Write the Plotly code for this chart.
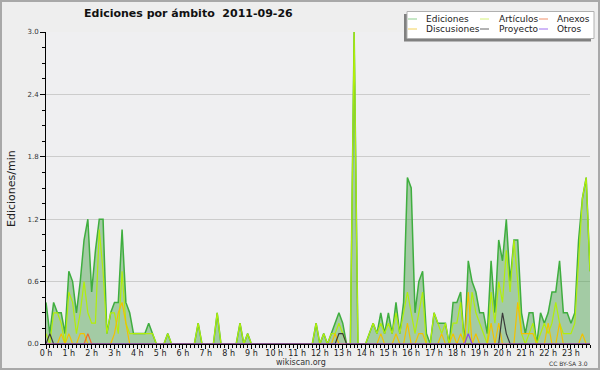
import plotly.graph_objects as go

# ---- data: 10-minute bins (144 per day), edits per minute ----
HOUR_LABELS = ["0 h", "1 h", "2 h", "3 h", "4 h", "5 h", "6 h", "7 h", "8 h", "9 h", "10 h", "11 h",
               "12 h", "13 h", "14 h", "15 h", "16 h", "17 h", "18 h", "19 h", "20 h", "21 h", "22 h", "23 h"]
Y_TICKS = [0.0, 0.6, 1.2, 1.8, 2.4, 3.0]
Y_TICK_LABELS = ["0.0", "0.6", "1.2", "1.8", "2.4", "3.0"]
SERIES_NAMES = ["Ediciones", "Artículos", "Anexos", "Discusiones", "Proyecto", "Otros"]

ediciones = [
    0.4, 0.1, 0.4, 0.3, 0.3, 0.1,
    0.7, 0.6, 0.3, 0.6, 1.0, 1.2,
    0.5, 0.9, 1.2, 1.2, 0.1, 0.3,
    0.4, 0.4, 1.1, 0.4, 0.3, 0.1,
    0.1, 0.1, 0.1, 0.2, 0.1, 0.0,
    0.0, 0.0, 0.1, 0.0, 0.0, 0.0,
    0.0, 0.0, 0.0, 0.0, 0.2, 0.0,
    0.0, 0.0, 0.0, 0.3, 0.0, 0.0,
    0.0, 0.0, 0.0, 0.2, 0.0, 0.1,
    0.0, 0.0, 0.0, 0.0, 0.0, 0.0,
    0.0, 0.0, 0.0, 0.0, 0.0, 0.0,
    0.0, 0.0, 0.0, 0.0, 0.0, 0.2,
    0.0, 0.1, 0.0, 0.1, 0.2, 0.3,
    0.2, 0.0, 0.0, 3.0, 0.0, 0.0,
    0.0, 0.1, 0.2, 0.1, 0.3, 0.1,
    0.3, 0.1, 0.4, 0.1, 0.4, 1.6,
    1.5, 0.3, 0.6, 0.7, 0.1, 0.0,
    0.3, 0.2, 0.2, 0.2, 0.0, 0.4,
    0.4, 0.5, 0.0, 0.8, 0.6, 0.5,
    0.3, 0.3, 0.1, 0.8, 0.3, 1.0,
    0.8, 1.2, 0.6, 1.0, 1.0, 0.3,
    0.1, 0.3, 0.3, 0.0, 0.3, 0.2,
    0.3, 0.5, 0.5, 0.8, 0.3, 0.3,
    0.2, 0.3, 1.0, 1.4, 1.6, 0.7,
]
articulos = [
    0.1, 0.0, 0.3, 0.3, 0.2, 0.0,
    0.5, 0.4, 0.1, 0.3, 0.6, 0.3,
    0.2, 0.2, 1.1, 0.7, 0.1, 0.3,
    0.3, 0.1, 0.7, 0.2, 0.1, 0.1,
    0.1, 0.1, 0.1, 0.1, 0.1, 0.0,
    0.0, 0.0, 0.1, 0.0, 0.0, 0.0,
    0.0, 0.0, 0.0, 0.0, 0.2, 0.0,
    0.0, 0.0, 0.0, 0.3, 0.0, 0.0,
    0.0, 0.0, 0.0, 0.2, 0.0, 0.1,
    0.0, 0.0, 0.0, 0.0, 0.0, 0.0,
    0.0, 0.0, 0.0, 0.0, 0.0, 0.0,
    0.0, 0.0, 0.0, 0.0, 0.0, 0.2,
    0.0, 0.1, 0.0, 0.1, 0.1, 0.2,
    0.1, 0.0, 0.0, 3.0, 0.0, 0.0,
    0.0, 0.1, 0.2, 0.1, 0.2, 0.1,
    0.2, 0.1, 0.3, 0.1, 0.3, 0.5,
    0.3, 0.1, 0.3, 0.5, 0.0, 0.0,
    0.3, 0.2, 0.1, 0.2, 0.0, 0.2,
    0.2, 0.4, 0.0, 0.1, 0.5, 0.3,
    0.2, 0.1, 0.0, 0.5, 0.2, 0.6,
    0.4, 0.9, 0.5, 1.0, 0.6, 0.1,
    0.0, 0.1, 0.2, 0.0, 0.1, 0.2,
    0.1, 0.2, 0.4, 0.2, 0.1, 0.1,
    0.1, 0.2, 0.8, 1.4, 1.6, 0.7,
]
discusiones = [
    0.0, 0.0, 0.0, 0.0, 0.1, 0.0,
    0.1, 0.0, 0.0, 0.1, 0.1, 0.0,
    0.0, 0.0, 0.0, 0.0, 0.0, 0.0,
    0.1, 0.3, 0.4, 0.2, 0.0, 0.0,
    0.0, 0.0, 0.0, 0.0, 0.0, 0.0,
    0.0, 0.0, 0.0, 0.0, 0.0, 0.0,
    0.0, 0.0, 0.0, 0.0, 0.0, 0.0,
    0.0, 0.0, 0.0, 0.0, 0.0, 0.0,
    0.0, 0.0, 0.0, 0.0, 0.0, 0.0,
    0.0, 0.0, 0.0, 0.0, 0.0, 0.0,
    0.0, 0.0, 0.0, 0.0, 0.0, 0.0,
    0.0, 0.0, 0.0, 0.0, 0.0, 0.0,
    0.0, 0.0, 0.0, 0.0, 0.1, 0.0,
    0.0, 0.0, 0.0, 0.0, 0.0, 0.0,
    0.0, 0.0, 0.0, 0.0, 0.1, 0.0,
    0.0, 0.0, 0.1, 0.0, 0.0, 0.2,
    0.0, 0.0, 0.1, 0.1, 0.0, 0.0,
    0.0, 0.0, 0.1, 0.0, 0.0, 0.1,
    0.0, 0.1, 0.0, 0.5, 0.0, 0.1,
    0.0, 0.0, 0.0, 0.2, 0.0, 0.2,
    0.0, 0.0, 0.0, 0.0, 0.4, 0.1,
    0.1, 0.1, 0.1, 0.0, 0.0, 0.0,
    0.2, 0.0, 0.0, 0.2, 0.0, 0.0,
    0.0, 0.0, 0.0, 0.1, 0.0, 0.0,
]
anexos = [0.0] * 11 + [0.1] + [0.0] * 132
proyecto = ([0.0, 0.1] + [0.0] * 75 + [0.1, 0.1] + [0.0] * 41 + [0.3, 0.1] + [0.0] * 22)
otros = [0.0] * 111 + [0.1] + [0.0] * 32

# time of each 10-minute bin, in hours
t = [i / 6 for i in range(len(ediciones))]

COLORS = {"Ediciones": "#3fae3f", "Artículos": "#b2ee0a", "Anexos": "#ee6a2a",
          "Discusiones": "#f2c200", "Proyecto": "#3a3a3a", "Otros": "#8a3ff0"}
LEGEND_COLORS = {"Ediciones": "#8fd08f", "Artículos": "#d4f27a", "Anexos": "#f0906a",
                 "Discusiones": "#f3d25a", "Proyecto": "#666666", "Otros": "#a070f0"}

fig = go.Figure()
fig.add_trace(go.Scatter(x=t, y=ediciones, mode="lines", name="Ediciones",
                         line=dict(color=COLORS["Ediciones"], width=1.5),
                         fill="tozeroy", fillcolor="rgba(70,160,70,0.45)"))
for name, vals in [("Artículos", articulos), ("Discusiones", discusiones), ("Anexos", anexos),
                   ("Proyecto", proyecto), ("Otros", otros)]:
    fig.add_trace(go.Scatter(x=t, y=vals, mode="lines", name=name,
                             line=dict(color=COLORS[name], width=1.2)))

W, H = 600, 370
L, R, T, B = 46, 10, 32, 26
PW, PH = W - L - R, H - T - B


def px(X):
    return (X - L) / PW


def py(Y):
    return (H - B - Y) / PH


shapes = []
annotations = []
# outer frame
shapes.append(dict(type="rect", xref="paper", yref="paper", x0=px(1), x1=px(599), y0=py(1), y1=py(369),
                   line=dict(color="#a8a8a8", width=2), fillcolor="rgba(0,0,0,0)", layer="above"))
# legend box with shadow
shapes.append(dict(type="rect", xref="paper", yref="paper", x0=px(404), x1=px(591), y0=py(41.5), y1=py(14),
                   line=dict(width=0), fillcolor="#808080", layer="above"))
shapes.append(dict(type="rect", xref="paper", yref="paper", x0=px(407), x1=px(594), y0=py(38.5), y1=py(11.5),
                   line=dict(color="#b0b0b0", width=1), fillcolor="#ffffff", layer="above"))
legend_layout = [("Ediciones", 408, 424, 19), ("Artículos", 480, 497, 19), ("Anexos", 539, 555, 19),
                 ("Discusiones", 408, 424, 29), ("Proyecto", 480, 497, 29), ("Otros", 539, 555, 29)]
for name, lx, tx, ly in legend_layout:
    shapes.append(dict(type="line", xref="paper", yref="paper", x0=px(lx), x1=px(lx + 9), y0=py(ly), y1=py(ly),
                       line=dict(color=LEGEND_COLORS[name], width=1), layer="above"))
    annotations.append(dict(text=name, xref="paper", yref="paper", x=px(tx), y=py(ly), xanchor="left",
                            yanchor="middle", showarrow=False,
                            font=dict(family="DejaVu Sans", size=9, color="#222222")))

annotations.append(dict(text="<b>Ediciones por ámbito&nbsp;&nbsp;2011-09-26</b>", xref="paper", yref="paper",
                        x=px(188), y=py(14), xanchor="center", yanchor="middle", showarrow=False,
                        font=dict(family="DejaVu Sans", size=11, color="#111111")))
annotations.append(dict(text="Ediciones/min", xref="paper", yref="paper", x=px(11), y=py(189), textangle=-90,
                        xanchor="center", yanchor="middle", showarrow=False,
                        font=dict(family="DejaVu Sans", size=11, color="#222222")))
annotations.append(dict(text="wikiscan.org", xref="paper", yref="paper", x=px(301), y=py(362),
                        xanchor="center", yanchor="middle", showarrow=False,
                        font=dict(family="DejaVu Sans", size=8, color="#333333")))
annotations.append(dict(text="CC BY-SA 3.0", xref="paper", yref="paper", x=px(590), y=py(363),
                        xanchor="right", yanchor="middle", showarrow=False,
                        font=dict(family="DejaVu Sans", size=6, color="#333333")))

fig.update_layout(
    width=W, height=H, margin=dict(l=L, r=R, t=T, b=B, autoexpand=False),
    paper_bgcolor="#eeeeee", plot_bgcolor="#efeff1",
    showlegend=False, shapes=shapes, annotations=annotations,
    font=dict(family="DejaVu Sans", color="#222222"),
)
fig.update_xaxes(range=[0, 143 / 6], tickmode="array", tickvals=list(range(24)), ticktext=HOUR_LABELS,
                 ticks="outside", ticklen=4, tickwidth=1, tickcolor="black",
                 showline=True, linecolor="black", linewidth=1, showgrid=False, zeroline=False,
                 ticklabelstandoff=-3,
                 tickfont=dict(family="DejaVu Sans", size=8, color="#222222"),
                 minor=dict(tickmode="linear", tick0=0, dtick=1 / 6, ticks="outside", ticklen=3,
                            tickcolor="black", showgrid=False))
fig.update_yaxes(range=[0, 3.0], tickmode="array", tickvals=Y_TICKS, ticktext=Y_TICK_LABELS,
                 ticks="outside", ticklen=5, tickwidth=1, tickcolor="black",
                 showline=True, linecolor="black", linewidth=1, showgrid=True, gridcolor="#cccccc",
                 zeroline=False, tickfont=dict(family="DejaVu Sans", size=7, color="#333333"),
                 minor=dict(tickmode="linear", tick0=0, dtick=0.15, ticks="outside", ticklen=3,
                            tickcolor="black", showgrid=False))

fig.write_html("out.html", config={"displayModeBar": False},
               post_script="document.body.style.margin='0';document.body.style.overflow='hidden';")
